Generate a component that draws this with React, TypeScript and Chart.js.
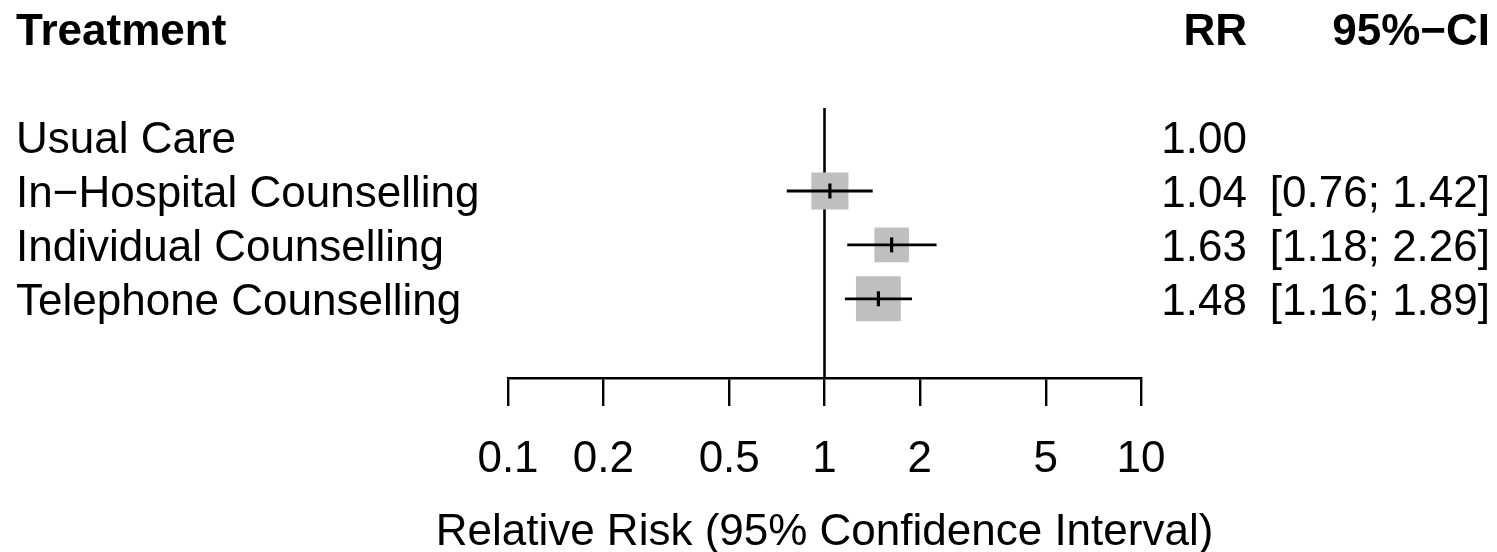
import React, { useEffect, useRef } from "react";
import { Chart, registerables } from "chart.js";

Chart.register(...registerables);

const treatments = [
  "Usual Care",
  "In\u2212Hospital Counselling",
  "Individual Counselling",
  "Telephone Counselling",
];
const rr = [1.0, 1.04, 1.63, 1.48];
const ciLower: (number | null)[] = [null, 0.76, 1.18, 1.16];
const ciUpper: (number | null)[] = [null, 1.42, 2.26, 1.89];
const weights: (number | null)[] = [null, 30, 26, 44];
const xTicks = [0.1, 0.2, 0.5, 1, 2, 5, 10];
const refValue = 1;
const headers = { label: "Treatment", rr: "RR", ci: "95%\u2212CI" };
const xTitle = "Relative Risk (95% Confidence Interval)";

const FONT = "'Liberation Sans', Arial, Helvetica, sans-serif";

const fmt = (v: number) => v.toFixed(2);

export default function App() {
  const ref = useRef<HTMLCanvasElement | null>(null);

  useEffect(() => {
    if (!ref.current) return;
    const rows = treatments.map((_, i) => i + 1);

    const squareSide = (w: number | null) => (w ? Math.sqrt(w * 45.84) : 0);

    const ciDatasets = rows
      .map((y, i) =>
        ciLower[i] != null && ciUpper[i] != null
          ? {
              type: "line" as const,
              data: [
                { x: ciLower[i] as number, y },
                { x: ciUpper[i] as number, y },
              ],
              borderColor: "#000",
              borderWidth: 2.8,
              pointRadius: 0,
              fill: false,
              order: 2,
            }
          : null
      )
      .filter(Boolean) as any[];

    const textPlugin = {
      id: "forestText",
      beforeDatasetsDraw(chart: any) {
        const { ctx, chartArea, scales } = chart;
        const x = scales.x.getPixelForValue(refValue);
        ctx.save();
        ctx.strokeStyle = "#000";
        ctx.lineWidth = 2.6;
        ctx.beginPath();
        ctx.moveTo(x, chartArea.top);
        ctx.lineTo(x, chartArea.bottom);
        ctx.stroke();
        ctx.restore();
      },
      afterDraw(chart: any) {
        const { ctx, scales } = chart;
        const y = scales.y;
        const capHalf = 15.75;
        ctx.save();
        ctx.fillStyle = "#000";
        ctx.textBaseline = "alphabetic";
        // header
        const hy = y.getPixelForValue(-1) + capHalf;
        ctx.font = `bold 44px ${FONT}`;
        ctx.textAlign = "left";
        ctx.fillText(headers.label, 16, hy);
        ctx.textAlign = "right";
        ctx.fillText(headers.rr, 1247, hy);
        ctx.fillText(headers.ci, 1490, hy);
        // rows
        ctx.font = `44px ${FONT}`;
        treatments.forEach((t, i) => {
          const py = y.getPixelForValue(i + 1) + capHalf;
          ctx.textAlign = "left";
          ctx.fillText(t, 16, py);
          ctx.textAlign = "right";
          ctx.fillText(fmt(rr[i]), 1247, py);
          if (ciLower[i] != null && ciUpper[i] != null) {
            ctx.fillText(
              `[${fmt(ciLower[i] as number)}; ${fmt(ciUpper[i] as number)}]`,
              1490,
              py
            );
          }
        });
        // x-axis title
        ctx.textAlign = "center";
        ctx.fillText(xTitle, (scales.x.left + scales.x.right) / 2, 545);
        ctx.restore();
      },
    };

    const chart = new Chart(ref.current, {
      type: "scatter",
      data: {
        datasets: [
          {
            type: "scatter",
            data: rows.map((y, i) => ({ x: rr[i], y })),
            pointStyle: "line",
            rotation: 90,
            pointRadius: rows.map((_, i) => (ciLower[i] != null ? 7.5 : 0)),
            borderColor: "#000",
            borderWidth: 3.2,
            backgroundColor: "#000",
            order: 1,
          } as any,
          ...ciDatasets,
          {
            type: "scatter",
            data: rows.map((y, i) => ({ x: rr[i], y })),
            pointStyle: "rect",
            pointRadius: weights.map((w) => squareSide(w) / Math.SQRT2),
            backgroundColor: "#bfbfbf",
            borderWidth: 0,
            order: 3,
          } as any,
        ],
      },
      options: {
        responsive: false,
        devicePixelRatio: 1,
        animation: false,
        events: [],
        layout: { padding: { left: 508, right: 356, top: 108, bottom: 0 } },
        plugins: { legend: { display: false }, tooltip: { enabled: false } },
        scales: {
          x: {
            type: "logarithmic",
            min: 0.1,
            max: 10,
            afterBuildTicks: (scale: any) => {
              scale.ticks = xTicks.map((v) => ({ value: v }));
            },
            afterFit: (scale: any) => {
              scale.height = 174;
            },
            ticks: {
              autoSkip: false,
              maxRotation: 0,
              minRotation: 0,
              padding: 32,
              color: "#000",
              font: { family: FONT, size: 44, lineHeight: 1 },
              callback: (v: any) => String(v),
            },
            grid: {
              display: true,
              drawOnChartArea: false,
              drawTicks: true,
              tickLength: 28,
              color: "#000",
              lineWidth: 2.4,
            },
            border: { display: true, color: "#000", width: 2.4 },
            title: { display: false },
          },
          y: {
            type: "linear",
            display: false,
            reverse: true,
            min: 0.46,
            max: 5.47,
          },
        },
      } as any,
      plugins: [textPlugin],
    });
    return () => chart.destroy();
  }, []);

  return (
    <div style={{ position: "fixed", left: 0, top: 0, width: 1497, height: 552, background: "#fff" }}>
      <canvas ref={ref} width={1497} height={552} style={{ width: 1497, height: 552, display: "block" }} />
    </div>
  );
}
